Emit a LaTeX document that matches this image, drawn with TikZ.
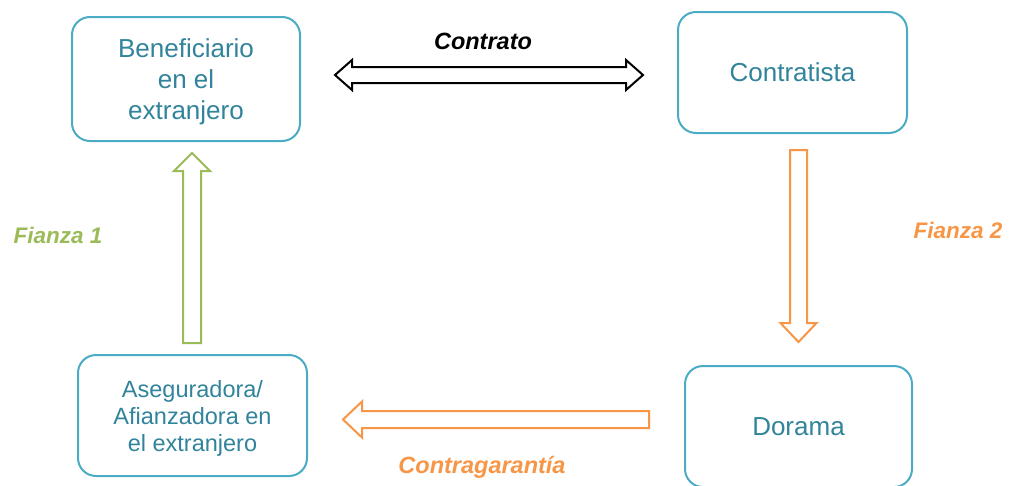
\documentclass[tikz,border=0pt]{standalone}
\usepackage{fontspec}
\setmainfont{Liberation Sans}
\definecolor{boxc}{HTML}{4BACC6}
\definecolor{txtc}{HTML}{31849B}
\definecolor{grn}{HTML}{9BBB59}
\definecolor{org}{HTML}{F79646}
\begin{document}
\begin{tikzpicture}[x=1pt,y=-1pt,
  ent/.style={draw=boxc, line width=2pt, rounded corners=18pt, text=txtc,
    align=center, inner sep=0pt, text depth=0pt},
  bigtxt/.style={font=\fontsize{26}{31}\selectfont},
  smalltxt/.style={font=\fontsize{23.5}{27}\selectfont},
  lbl/.style={font=\fontsize{22.5}{27}\selectfont\bfseries\itshape, inner sep=0pt},
  lblbig/.style={font=\fontsize{23.5}{27}\selectfont\bfseries\itshape, inner sep=0pt},
  blk/.style={line width=2pt, fill=white, line join=miter}]
\clip (0,0) rectangle (1010,485);
\fill[white] (0,0) rectangle (1010,485);
% boxes
\node[ent, bigtxt, minimum width=228pt, minimum height=124pt] (ben) at (186,79) {Beneficiario\\en el\\extranjero};
\node[ent, bigtxt, minimum width=229pt, minimum height=121pt] (con) at (792.5,72.5) {Contratista};
\node[ent, smalltxt, minimum width=229pt, minimum height=121pt] (ase) at (192.5,415.5) {Aseguradora/\\Afianzadora en\\el extranjero};
\node[ent, bigtxt, minimum width=227pt, minimum height=121pt] (dor) at (798.5,426.5) {Dorama};
% block arrows
\draw[blk, draw=black] (335,75) -- (352,60) -- (352,67) -- (626,67) -- (626,60) -- (643,75)
  -- (626,90) -- (626,83) -- (352,83) -- (352,90) -- cycle;
\draw[blk, draw=grn] (192,153) -- (210,171) -- (201,171) -- (201,343) -- (183,343) -- (183,171) -- (174,171) -- cycle;
\draw[blk, draw=org] (790,150) -- (807,150) -- (807,323) -- (816.5,323) -- (798.5,342) -- (780.5,323) -- (790,323) -- cycle;
\draw[blk, draw=org] (343,419.5) -- (362,401.5) -- (362,411) -- (649,411) -- (649,428) -- (362,428) -- (362,437.5) -- cycle;
% labels
\node[lblbig, text=black] (lcon) at (483,41) {Contrato};
\node[lbl, text=grn] (lf1) at (58,235) {Fianza 1};
\node[lbl, text=org] (lf2) at (958,230) {Fianza 2};
\node[lblbig, text=org] (lcg) at (482,467) {Contragarantía};
\end{tikzpicture}
\end{document}
